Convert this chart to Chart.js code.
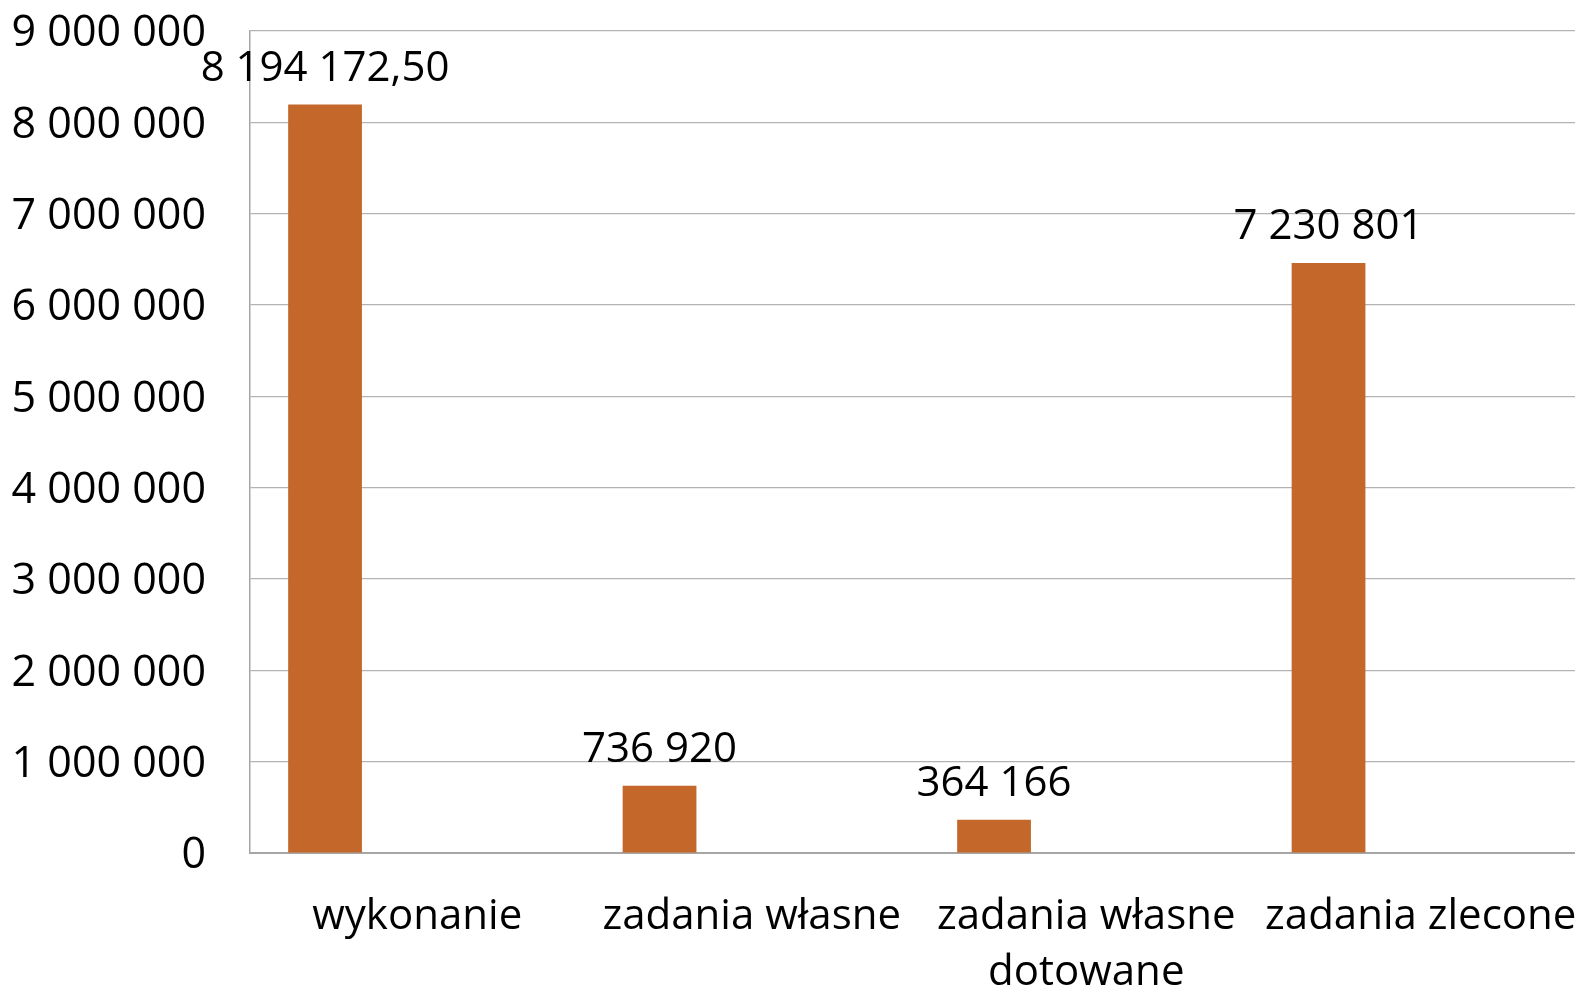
<!DOCTYPE html>
<html>
<head>
<meta charset="utf-8">
<script src="https://cdn.jsdelivr.net/npm/chart.js@4/dist/chart.umd.min.js"></script>
<style>
  html, body { margin: 0; padding: 0; background: #ffffff; overflow: hidden; }
  #wrap { position: absolute; left: 0; top: 0; width: 1600px; height: 1040px; }
</style>
</head>
<body>
<div id="wrap"><canvas id="c"></canvas></div>
<script>
const categories = ['wykonanie', 'zadania własne', ['zadania własne', 'dotowane'], 'zadania zlecone'];
const values = [8194172.5, 736920, 364166, 6460000];
const valueLabels = ['8 194 172,50', '736 920', '364 166', '7 230 801'];
const emptySeries = [null, null, null, null];
const yTicks = [0, 1000000, 2000000, 3000000, 4000000, 5000000, 6000000, 7000000, 8000000, 9000000];

const FONT = "'Open Sans', sans-serif";
const fmt = v => String(Math.round(v)).replace(/\B(?=(\d{3})+(?!\d))/g, ' ');

const labelPlugin = {
  id: 'valueLabels',
  afterDatasetsDraw(chart) {
    const ctx = chart.ctx;
    const meta = chart.getDatasetMeta(0);
    ctx.save();
    ctx.font = '42px ' + FONT;
    ctx.fillStyle = '#000000';
    ctx.textAlign = 'center';
    ctx.textBaseline = 'alphabetic';
    meta.data.forEach((bar, i) => {
      ctx.fillText(valueLabels[i], bar.x, bar.y - 24);
    });
    ctx.restore();
  }
};

new Chart(document.getElementById('c'), {
  type: 'bar',
  data: {
    labels: categories,
    datasets: [
      { data: values, backgroundColor: '#C4672A', categoryPercentage: 0.827, barPercentage: 0.8 },
      { data: emptySeries, backgroundColor: '#C4672A', categoryPercentage: 0.827, barPercentage: 0.8 },
      { data: emptySeries, backgroundColor: '#C4672A', categoryPercentage: 0.827, barPercentage: 0.8 }
    ]
  },
  options: {
    responsive: true,
    maintainAspectRatio: false,
    animation: false,
    layout: { padding: { top: 3, right: 12, bottom: 3, left: 0 } },
    plugins: { legend: { display: false }, tooltip: { enabled: false } },
    scales: {
      x: {
        afterFit(scale) { scale.paddingLeft = 0; scale.paddingRight = 0; },
        grid: { display: false, drawTicks: false },
        border: { display: true, color: '#a6a6a6', width: 2 },
        ticks: {
          color: '#000000',
          font: { family: FONT, size: 42, lineHeight: 1.333 },
          padding: 36,
          maxRotation: 0,
          autoSkip: false
        }
      },
      y: {
        min: 0,
        max: 9000000,
        afterFit(scale) { scale.width = 250; scale.paddingTop = 31; scale.paddingBottom = 28; },
        afterBuildTicks(scale) { scale.ticks = yTicks.map(v => ({ value: v })); },
        grid: { color: '#b3b3b3', lineWidth: 1.3, drawTicks: false },
        border: { display: true, color: '#a6a6a6', width: 1.5 },
        ticks: {
          color: '#000000',
          font: { family: FONT, size: 43, lineHeight: 1.333 },
          padding: 44,
          labelOffset: 3,
          callback: v => fmt(v)
        }
      }
    }
  },
  plugins: [labelPlugin]
});
</script>
</body>
</html>
